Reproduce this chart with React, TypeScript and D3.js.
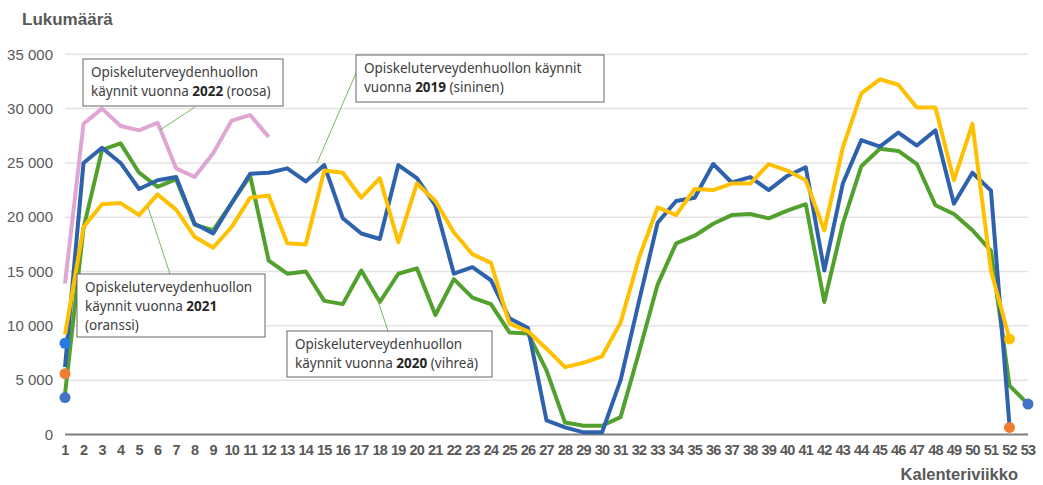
import React from 'react';
import * as d3 from 'd3';

// calendar weeks on the x axis
const weeks = d3.range(1, 54);
const yTicks = [0, 5000, 10000, 15000, 20000, 25000, 30000, 35000];

// weekly visits (index 0 = week 1)
const visits2019 = [6200, 25000, 26400, 25000, 22600, 23400, 23700, 19400, 18500, 21300, 24000, 24100, 24500, 23300, 24800, 19900, 18500, 18000, 24800, 23600, 21100, 14800, 15400, 14200, 10700, 9800, 1300, 650, 200, 200, 5000, 12300, 19500, 21500, 21800, 24900, 23200, 23700, 22500, 23800, 24600, 15100, 23100, 27100, 26500, 27800, 26600, 28000, 21250, 24100, 22450, 830];
const visits2020 = [3700, 19000, 26200, 26800, 24100, 22800, 23500, 19300, 18800, 21300, 23800, 16000, 14800, 15000, 12300, 12000, 15100, 12200, 14800, 15300, 11000, 14300, 12600, 12000, 9400, 9300, 5900, 1100, 800, 800, 1600, 7600, 13800, 17600, 18300, 19400, 20200, 20300, 19900, 20600, 21200, 12200, 19400, 24700, 26300, 26100, 24900, 21100, 20300, 18800, 16900, 4500, 2800];
const visits2021 = [9200, 19100, 21200, 21300, 20200, 22100, 20700, 18200, 17200, 19100, 21800, 22000, 17600, 17500, 24300, 24100, 21800, 23600, 17700, 23100, 21500, 18600, 16600, 15800, 10200, 9500, 7900, 6200, 6600, 7200, 10300, 16300, 20900, 20200, 22600, 22500, 23100, 23100, 24900, 24300, 23400, 18800, 26400, 31400, 32700, 32200, 30100, 30100, 23400, 28600, 15100, 8800];
const visits2022 = [13900, 28600, 30000, 28400, 28000, 28700, 24500, 23700, 25900, 28900, 29400, 27400];

// loose end markers
const markerWeeks = [1, 1, 1, 52, 52, 53];
const markerValues = [8400, 5600, 3400, 8800, 650, 2800];

// annotation texts
const noteYears = ['2022', '2019', '2021', '2020'];
const noteColors = ['roosa', 'sininen', 'oranssi', 'vihreä'];

const W = 1043;
const H = 485;
const gray = '#595959';
const font = 'Arial, "Liberation Sans", sans-serif';
const noteFont = '"Noto Sans", "Open Sans", sans-serif';

const x = d3.scalePoint<number>().domain(weeks).range([65, 1028]);
const y = d3.scaleLinear().domain([0, 35000]).range([434.5, 54.3]);

const line = d3
  .line<number>()
  .x((_, i) => x(i + 1) as number)
  .y((d) => y(d));

const seriesList = [
  { data: visits2020, color: '#52a02e' },
  { data: visits2019, color: '#2e62ad' },
  { data: visits2021, color: '#ffc000' },
  { data: visits2022, color: '#dfa6d3' },
];

const markerColors = ['#2a7be8', '#ed7d31', '#4472c4', '#ffc000', '#ed7d31', '#4472c4'];

const Note = ({ box, lines, leader }) => (
  <g>
    <line x1={leader[0]} y1={leader[1]} x2={leader[2]} y2={leader[3]} stroke="#7cb860" strokeWidth={1} />
    <rect x={box[0]} y={box[1]} width={box[2]} height={box[3]} fill="#fff" stroke="#666" strokeWidth={1} />
    {lines.map((l, i) => (
      <text key={i} x={box[0] + 8} y={box[1] + 18 + i * 19} fontFamily={noteFont} fontSize={13.5} fill="#404040">
        {l}
      </text>
    ))}
  </g>
);

const App = () => {
  const yr = (i) => <tspan fontWeight="bold" fill="#262626">{noteYears[i]}</tspan>;
  return (
    <svg width={W} height={H} style={{ position: 'absolute', left: 0, top: 0, background: '#fff' }}>
      <text x={22} y={25} fontFamily={font} fontSize={17} fontWeight="bold" fill={gray}>
        Lukumäärä
      </text>

      {/* grid + y labels */}
      {yTicks.map((t) => (
        <g key={t}>
          {t > 0 && <line x1={65} x2={1028} y1={y(t)} y2={y(t)} stroke="#e3e3e3" strokeWidth={1.5} />}
          <text x={53} y={y(t)} dy="0.35em" textAnchor="end" fontFamily={font} fontSize={15} fill={gray}>
            {d3.format(',')(t).replace(',', ' ')}
          </text>
        </g>
      ))}
      <line x1={65} x2={1028} y1={y(0)} y2={y(0)} stroke="#7f7f7f" strokeWidth={2} />

      {weeks.map((w) => (
        <text key={w} x={x(w)} y={455} textAnchor="middle" fontFamily={font} fontSize={14.5} fontWeight="bold" letterSpacing={-0.8} fill={gray}>
          {w}
        </text>
      ))}
      <text x={1018} y={480} textAnchor="end" fontFamily={font} fontSize={16.5} fontWeight="bold" fill={gray}>
        Kalenteriviikko
      </text>

      {seriesList.map((s, i) => (
        <path key={i} d={line(s.data) as string} fill="none" stroke={s.color} strokeWidth={4} strokeLinejoin="round" />
      ))}

      {markerWeeks.map((w, i) => (
        <circle key={i} cx={x(w)} cy={y(markerValues[i])} r={5.5} fill={markerColors[i]} />
      ))}

      <Note
        box={[83, 59, 200, 47]}
        leader={[195, 107, 160, 130]}
        lines={['Opiskeluterveydenhuollon', <>käynnit vuonna {yr(0)} ({noteColors[0]})</>]}
      />
      <Note
        box={[356, 55, 248, 47]}
        leader={[356, 73, 317, 163]}
        lines={['Opiskeluterveydenhuollon käynnit', <>vuonna {yr(1)} ({noteColors[1]})</>]}
      />
      <Note
        box={[77, 274, 188, 63]}
        leader={[170, 274, 148, 207]}
        lines={['Opiskeluterveydenhuollon', <>käynnit vuonna {yr(2)}</>, `(${noteColors[2]})`]}
      />
      <Note
        box={[287, 331, 205, 46]}
        leader={[388, 331, 377, 298]}
        lines={['Opiskeluterveydenhuollon', <>käynnit vuonna {yr(3)} ({noteColors[3]})</>]}
      />
    </svg>
  );
};

export default App;
